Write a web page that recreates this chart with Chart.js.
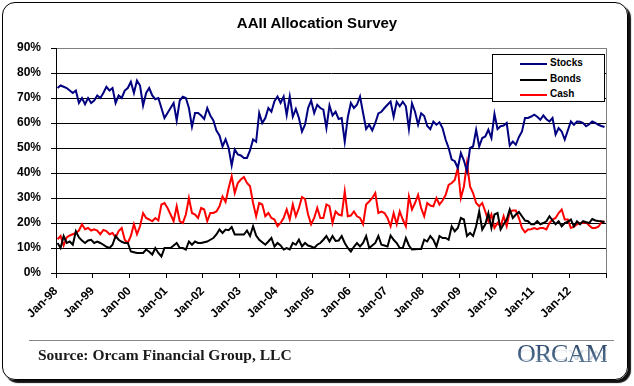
<!DOCTYPE html>
<html>
<head>
<meta charset="utf-8">
<title>AAII Allocation Survey</title>
<script src="https://cdn.jsdelivr.net/npm/chart.js@4.4.1/dist/chart.umd.min.js"></script>
<style>
    html, body { margin: 0; padding: 0; background: #fff; }
    body { width: 634px; height: 386px; position: relative; overflow: hidden; font-family: "Liberation Sans", Arial, sans-serif; }
    .frame {
        position: absolute; left: 2px; top: 2px; width: 624px; height: 376px;
        border: 1px solid #000; border-radius: 13px;
        box-shadow: 3px 3px 1px #111;
    }
    #chart { position: absolute; left: 0; top: 0; }
    .title {
        position: absolute; left: 0; width: 634px; top: 14px; text-align: center;
        font: bold 15px "Liberation Sans", Arial, sans-serif; color: #000;
    }
    .legend {
        position: absolute; left: 492px; top: 54px; width: 111px; height: 46px;
        border: 1px solid #000; background: #fff;
    }
    .legend .row { position: absolute; left: 0; height: 14px; }
    .legend .swatch { position: absolute; left: 27px; top: 6px; width: 27px; height: 2px; }
    .legend .label { position: absolute; left: 57px; top: 0; font: bold 10px "Liberation Sans", Arial, sans-serif; white-space: nowrap; }
    .rule { position: absolute; left: 29px; top: 340px; width: 585px; height: 0; border-top: 1px solid #888; }
    .source {
        position: absolute; left: 38px; top: 346px;
        font: bold 15.5px "Liberation Serif", "Times New Roman", serif; color: #1a1a1a;
    }
    .logo { position: absolute; left: 517px; top: 339px; width: 95px; height: 42px; }
    .logo span {
        position: absolute; left: 0; font: 26px "Liberation Serif", "Times New Roman", serif; letter-spacing: -1px;
        background: linear-gradient(#1d3a5e, #6f8aa8); -webkit-background-clip: text; background-clip: text; color: transparent;
    }
    .logo .main { top: 0; }
    .logo .mirror { top: 25px; transform: scaleY(-0.6); transform-origin: top; opacity: 0.25; }
</style>
</head>
<body>
<div class="frame"></div>
<canvas id="chart" width="634" height="386"></canvas>
<div class="title">AAII Allocation Survey</div>
<div class="legend" id="legend"></div>
<div class="rule"></div>
<div class="source">Source: Orcam Financial Group, LLC</div>
<div class="logo"><span class="main">ORCAM</span><span class="mirror">ORCAM</span></div>
<script>
// AAII monthly allocation, Jan-98 .. Dec-12 (percent)
const yearLabels = ['Jan-98', 'Jan-99', 'Jan-00', 'Jan-01', 'Jan-02', 'Jan-03', 'Jan-04', 'Jan-05',
    'Jan-06', 'Jan-07', 'Jan-08', 'Jan-09', 'Jan-10', 'Jan-11', 'Jan-12'];

const seriesNames = ['Stocks', 'Bonds', 'Cash'];
const seriesColors = ['#000080', '#000000', '#ff0000'];

const stocks = [
    74, 75, 74.5, 74, 73, 72, 73, 68, 70, 67.5, 70, 68,
    69, 71, 70, 72, 74.5, 73, 74, 68, 71, 70, 73, 74,
    76.5, 72, 77, 75, 67, 72, 74, 71, 69.5, 70, 66, 62,
    64, 66, 68, 61, 69, 70.5, 70, 66, 58.5, 64, 64, 63,
    61.6, 66, 63, 61, 57, 55, 50.6, 53.5, 50, 43, 49.4, 47.4,
    47, 46, 46, 49, 53.4, 52.5, 64, 60, 62, 66, 64.5, 68.7,
    70.6, 68, 70.6, 63.2, 70.6, 62.5, 65.6, 62, 56.6, 59.3, 66, 69,
    64, 67.3, 66, 65.3, 58, 67, 63, 64.5, 61.6, 62, 52.5, 62.3,
    68, 66, 67.3, 70.6, 64, 57.6, 59.3, 57, 60, 63.8, 64.5, 66,
    67.3, 68.6, 62.5, 68.5, 66.7, 68.5, 66.7, 57.6, 67.9, 64.5, 59.3, 63.9,
    62.8, 58.8, 57.5, 60.6, 59.3, 60.3, 58, 53.4, 50, 45.4, 44.7, 42,
    48, 45, 40.7, 50, 50.6, 57.3, 50.6, 54, 54.6, 57.3, 54, 63.6,
    57.6, 58.7, 59, 60, 51, 52.6, 51.3, 54.4, 56.6, 62, 62, 62.6,
    63.3, 62.5, 61.3, 63, 61.5, 60.6, 62, 55.4, 58, 56.6, 53.4, 57,
    60.6, 59.3, 60.6, 60.5, 60, 58.7, 59.5, 60.6, 60, 59.3, 58.8, 58.4
];

const bonds = [
    12, 10, 14.8, 12, 12.6, 11.3, 16.7, 14.2, 13, 12, 13, 13.3,
    12, 12.6, 12, 11.3, 10.5, 10, 11.3, 14.8, 13.3, 12.5, 12, 12,
    8.6, 8.3, 8, 8, 8, 9.4, 8.5, 7.4, 10, 8, 6.6, 10,
    10, 10, 11, 12, 10, 10, 9.4, 12.6, 11.3, 12.6, 12, 12,
    12.3, 12.6, 13.3, 14, 15.4, 17.4, 16, 17.4, 17.1, 18.4, 15.4, 15.4,
    15.4, 15.4, 17, 14.8, 18.7, 15, 13.3, 12.3, 11.3, 12.6, 14, 10.6,
    12, 11, 9.4, 10, 9.4, 12, 11.3, 13.3, 10.6, 12, 11, 10.6,
    10, 11.3, 12, 13.3, 14.8, 12.6, 14.8, 12.8, 13, 14.8, 12, 10,
    8.6, 10.5, 12, 10.6, 12, 14.8, 10, 11, 12, 14.8, 11.3, 11,
    10.6, 15, 13.3, 12, 10, 10, 14, 11, 9.4, 9.5, 9.6, 9.6,
    13.3, 12.6, 14.8, 13.3, 10.6, 14.8, 14, 14, 13.3, 18.7, 16.7, 18,
    22, 21.4, 14.8, 16, 14.8, 18.7, 24.6, 17.4, 19.5, 24, 18, 23.4,
    24, 17.4, 19.5, 21.4, 25.4, 22, 23.4, 24.4, 22.7, 21, 20.7, 19.5,
    19.5, 20.7, 19.5, 20, 20.7, 22.7, 21, 19.5, 20.7, 18.7, 20, 20.5,
    21.4, 18.7, 20.7, 19.5, 20.7, 20.3, 20, 21.6, 21, 20.8, 20.7, 20.3
];

const cash = [
    13.5, 14.8, 11, 14.2, 15, 15.5, 16, 17, 19.5, 17.5, 18, 17,
    17.5, 17, 15.5, 17.2, 16.8, 15.5, 16, 14.2, 16.8, 18, 13.3, 12,
    14.8, 19.5, 15.5, 18.7, 24, 22, 21.4, 20.7, 22, 21, 27.4, 28,
    26, 23.4, 20.7, 26.7, 20.7, 20, 23.4, 30, 24, 23.4, 22, 26,
    25.4, 20.7, 24, 24, 24.6, 26.7, 30.6, 28.4, 34, 38.7, 32, 36,
    37.4, 38.4, 36, 34.7, 28, 22.7, 28, 27.4, 22.7, 24, 22, 21.4,
    18.7, 20, 22, 25.4, 21.4, 27.4, 22.7, 26, 30.4, 29.6, 23.4, 19.5,
    22, 26, 22, 22, 27.4, 26.7, 20, 24.6, 23.4, 23, 32.7, 22.7,
    23, 24.6, 22.7, 22, 19.5, 27.4, 28.6, 30, 32, 24, 24.6, 24,
    22, 18.7, 24, 19.5, 24.6, 21.4, 18.7, 30.6, 25.4, 28, 31.2, 26,
    22.7, 28, 27, 26.7, 30, 27.4, 29, 31.2, 35.2, 36, 37.2, 42,
    30, 34.6, 44, 34.6, 32, 28, 26.7, 28, 24.6, 20.7, 23.4, 18,
    20, 18.7, 22.7, 18.7, 24.6, 25, 25, 22, 18, 16.3, 17.4, 17.5,
    18, 17.5, 18, 18, 17.4, 20, 21.4, 22, 24, 25.4, 21.4, 21.4,
    18, 18.5, 19.5, 20, 20, 20.3, 19, 18, 18, 18.5, 20.3, 20.7
];

document.addEventListener('DOMContentLoaded', function() {
    const allSeries = [stocks, bonds, cash];

    // months sit between the yearly tick marks
    const datasets = allSeries.map((values, s) => ({
        label: seriesNames[s],
        data: values.map((v, i) => ({ x: i + 0.5, y: v })),
        borderColor: seriesColors[s],
        borderWidth: 2,
        pointRadius: 0,
        tension: 0,
        fill: false
    }));

    const tickFont = { family: '"Liberation Sans", Arial, sans-serif', size: 12, weight: 'bold' };

    new Chart(document.getElementById('chart').getContext('2d'), {
        type: 'line',
        data: { datasets: datasets },
        options: {
            responsive: false,
            animation: false,
            devicePixelRatio: 1,
            layout: { padding: { left: 0, top: 48, right: 28, bottom: 0 } },
            plugins: { legend: { display: false }, tooltip: { enabled: false } },
            scales: {
                x: {
                    type: 'linear',
                    min: 0,
                    max: 180,
                    afterFit: function(scale) { scale.height = 113; },
                    afterBuildTicks: function(scale) {
                        scale.ticks = [];
                        for (let i = 0; i <= 180; i += 12) scale.ticks.push({ value: i });
                    },
                    ticks: {
                        autoSkip: false,
                        maxRotation: 45,
                        minRotation: 45,
                        padding: 6,
                        color: '#000',
                        font: tickFont,
                        callback: function(v) { return yearLabels[v / 12] || ''; }
                    },
                    grid: {
                        color: ctx => ctx.tick && ctx.tick.value === 180 ? '#808080' : 'rgba(0,0,0,0)',
                        tickColor: '#000',
                        tickLength: 5,
                        lineWidth: 1
                    },
                    border: { color: '#000', width: 1 }
                },
                y: {
                    min: 0,
                    max: 90,
                    afterFit: function(scale) { scale.width = 56; },
                    ticks: {
                        stepSize: 10,
                        padding: 10,
                        color: '#000',
                        font: tickFont,
                        callback: v => v + '%'
                    },
                    grid: {
                        color: ctx => ctx.tick && ctx.tick.value === 90 ? '#808080' : '#000',
                        tickColor: '#000',
                        tickLength: 5,
                        lineWidth: 1
                    },
                    border: { color: '#000', width: 1 }
                }
            }
        }
    });

    // legend box built from the series names
    const legend = document.getElementById('legend');
    seriesNames.forEach((name, s) => {
        const row = document.createElement('div');
        row.className = 'row';
        row.style.top = (2 + s * 15.5) + 'px';
        row.style.width = '100%';
        row.innerHTML = '<div class="swatch" style="background:' + seriesColors[s] + '"></div>' +
            '<div class="label">' + name + '</div>';
        legend.appendChild(row);
    });
});
</script>
</body>
</html>
